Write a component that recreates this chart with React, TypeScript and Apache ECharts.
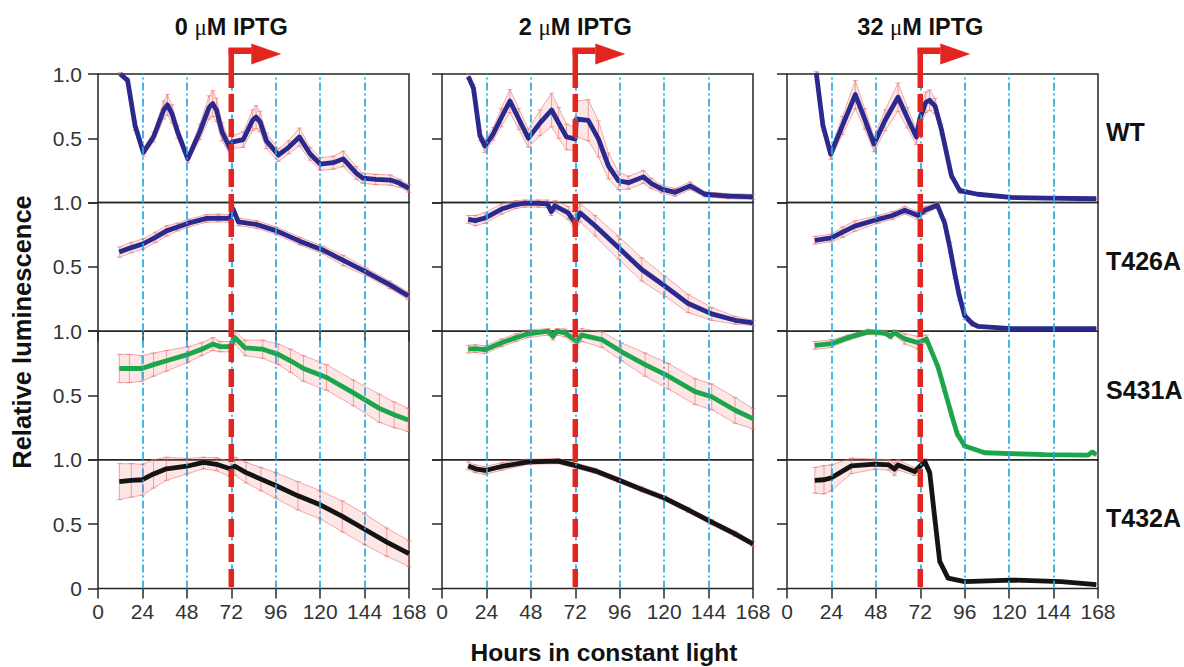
import React, { useEffect, useRef } from "react";
import * as echarts from "echarts";

// ---------- data ----------
const HOUR_TICKS = [0, 24, 48, 72, 96, 120, 144, 168];
const GUIDE_HOURS = [24, 48, 72, 96, 120, 144];
const IPTG_HOUR = 72;
const COLUMN_TITLES = ["0", "2", "32"]; // µM IPTG
const ROW_LABELS = ["WT", "T426A", "S431A", "T432A"];
const ROW_COLORS = ["#2a2a8e", "#2a2a8e", "#1ca64b", "#141414"];

// [hour, relative luminescence, error]
const wt0 = [[12, 1.0, 0.01], [16, 0.95, 0.02], [20, 0.6, 0.04], [24.5, 0.39, 0.03], [30, 0.51, 0.04], [35.5, 0.72, 0.07], [37.5, 0.76, 0.08], [40, 0.69, 0.07], [43, 0.55, 0.05], [48.5, 0.34, 0.03], [55, 0.55, 0.06], [60, 0.74, 0.09], [62, 0.77, 0.1], [64, 0.72, 0.09], [67, 0.55, 0.07], [71.7, 0.41, 0.05], [72.3, 0.47, 0.05], [78.5, 0.49, 0.06], [83.5, 0.64, 0.08], [85.4, 0.665, 0.09], [87.5, 0.63, 0.08], [91, 0.48, 0.06], [97.4, 0.37, 0.05], [103, 0.43, 0.05], [108.8, 0.51, 0.07], [114.5, 0.38, 0.05], [120, 0.3, 0.05], [127, 0.31, 0.05], [132.5, 0.34, 0.06], [139.5, 0.23, 0.05], [143, 0.19, 0.04], [150, 0.18, 0.04], [158, 0.175, 0.04], [163, 0.15, 0.03], [168, 0.11, 0.03]];
const wt2 = [[14.2, 0.98, 0.02], [17, 0.89, 0.03], [20.5, 0.52, 0.04], [23.2, 0.44, 0.05], [27.7, 0.535, 0.05], [32, 0.66, 0.07], [36.7, 0.79, 0.09], [41.5, 0.65, 0.08], [46.6, 0.5, 0.07], [53, 0.62, 0.1], [59.2, 0.72, 0.13], [63, 0.62, 0.12], [67.3, 0.51, 0.1], [71.9, 0.495, 0.09], [72.6, 0.65, 0.14], [79, 0.64, 0.16], [84.5, 0.495, 0.14], [89.9, 0.285, 0.1], [95.3, 0.17, 0.07], [100.7, 0.155, 0.05], [108.8, 0.2, 0.05], [113, 0.15, 0.04], [118.7, 0.105, 0.03], [125.9, 0.08, 0.03], [134, 0.13, 0.03], [142, 0.065, 0.02], [154.7, 0.05, 0.02], [168, 0.045, 0.02]];
const wt32 = [[15.8, 1.01, 0.01], [19.4, 0.6, 0.04], [23.6, 0.377, 0.04], [30, 0.6, 0.07], [36.9, 0.84, 0.11], [42, 0.65, 0.08], [47, 0.455, 0.06], [53, 0.64, 0.08], [60, 0.82, 0.11], [65, 0.66, 0.08], [69.9, 0.51, 0.06], [71.7, 0.65, 0.08], [75, 0.78, 0.08], [77, 0.796, 0.08], [80, 0.75, 0.06], [83.4, 0.57, 0.04], [88.8, 0.21, 0.02], [93.3, 0.093, 0.02], [103, 0.065, 0.01], [121, 0.04, 0.01], [140, 0.035, 0.01], [167, 0.03, 0.01]];

const t426_0 = [[11.5, 0.615, 0.04], [18, 0.65, 0.04], [24.5, 0.68, 0.04], [31, 0.73, 0.04], [37, 0.78, 0.04], [43, 0.81, 0.03], [48.8, 0.84, 0.03], [58.7, 0.877, 0.03], [65, 0.88, 0.03], [71.3, 0.877, 0.03], [73, 0.95, 0.03], [75.8, 0.85, 0.03], [85.7, 0.83, 0.03], [96.5, 0.78, 0.03], [109, 0.7, 0.03], [121.7, 0.63, 0.03], [132.5, 0.55, 0.04], [145, 0.46, 0.03], [157.7, 0.36, 0.03], [167.6, 0.275, 0.03]];
const t426_2 = [[14.2, 0.87, 0.03], [18, 0.86, 0.04], [23.2, 0.88, 0.04], [32.2, 0.95, 0.04], [40, 0.985, 0.03], [44.8, 0.995, 0.03], [52, 0.995, 0.03], [57, 0.99, 0.03], [59, 0.93, 0.03], [61, 0.975, 0.04], [68.2, 0.92, 0.05], [71.9, 0.84, 0.06], [74.6, 0.92, 0.07], [82.7, 0.82, 0.08], [95.3, 0.65, 0.09], [107.9, 0.48, 0.09], [120.5, 0.35, 0.08], [133, 0.215, 0.07], [145.7, 0.135, 0.05], [158.3, 0.085, 0.03], [168, 0.065, 0.02]];
const t426_32 = [[15, 0.707, 0.03], [24, 0.725, 0.03], [30, 0.77, 0.04], [36.6, 0.817, 0.04], [49.2, 0.87, 0.03], [57, 0.9, 0.03], [63.6, 0.94, 0.03], [70.8, 0.9, 0.03], [74.4, 0.94, 0.03], [81.2, 0.98, 0.02], [85.2, 0.84, 0.03], [88, 0.65, 0.04], [90.6, 0.45, 0.04], [93, 0.28, 0.04], [96, 0.12, 0.03], [100, 0.06, 0.02], [103.2, 0.037, 0.01], [121.2, 0.02, 0.01], [167, 0.02, 0.01]];

const s431_0 = [[11.5, 0.71, 0.11], [17, 0.71, 0.11], [23.6, 0.71, 0.1], [30, 0.74, 0.09], [37, 0.77, 0.08], [48.8, 0.82, 0.06], [56, 0.86, 0.05], [62, 0.9, 0.05], [66, 0.88, 0.04], [71.3, 0.88, 0.04], [74, 0.95, 0.05], [79.4, 0.87, 0.06], [89, 0.86, 0.07], [97.4, 0.82, 0.08], [104, 0.77, 0.09], [111, 0.71, 0.1], [123.5, 0.64, 0.1], [138, 0.52, 0.1], [152, 0.4, 0.11], [160, 0.35, 0.1], [167.6, 0.31, 0.09]];
const s431_2 = [[14.2, 0.86, 0.03], [18, 0.865, 0.03], [23.2, 0.856, 0.03], [32.2, 0.91, 0.03], [40, 0.95, 0.03], [46.6, 0.98, 0.03], [57.4, 1.0, 0.03], [60, 0.96, 0.03], [62, 1.0, 0.03], [66.5, 0.987, 0.03], [72.8, 0.92, 0.04], [75.5, 0.97, 0.05], [86.3, 0.935, 0.06], [97, 0.84, 0.07], [109.7, 0.74, 0.09], [122.3, 0.65, 0.1], [136.7, 0.53, 0.1], [145.7, 0.49, 0.1], [158.3, 0.385, 0.1], [168, 0.32, 0.08]];
const s431_32 = [[15, 0.89, 0.03], [24, 0.903, 0.03], [33, 0.95, 0.02], [43.8, 0.995, 0.02], [52.8, 0.987, 0.02], [56, 0.96, 0.02], [58, 0.99, 0.02], [63.6, 0.94, 0.04], [70.8, 0.91, 0.05], [75.3, 0.94, 0.03], [81.6, 0.72, 0.02], [85, 0.55, 0.02], [88.8, 0.355, 0.02], [92, 0.2, 0.02], [96, 0.107, 0.01], [106.8, 0.055, 0.01], [139, 0.04, 0.01], [162.6, 0.037, 0.01], [165, 0.06, 0.01], [167, 0.04, 0.01]];

const t432_0 = [[11.5, 0.83, 0.14], [18, 0.84, 0.13], [24, 0.845, 0.12], [30, 0.89, 0.11], [37, 0.93, 0.09], [48, 0.95, 0.06], [57, 0.98, 0.05], [64, 0.965, 0.05], [71.3, 0.93, 0.06], [74, 0.95, 0.07], [80, 0.9, 0.08], [88, 0.85, 0.09], [96, 0.8, 0.1], [108, 0.72, 0.11], [120, 0.65, 0.11], [132, 0.56, 0.12], [144, 0.46, 0.12], [156, 0.36, 0.11], [168, 0.27, 0.1]];
const t432_2 = [[14.2, 0.953, 0.03], [18, 0.93, 0.03], [23.2, 0.917, 0.03], [32.2, 0.948, 0.03], [46.6, 0.984, 0.02], [62.8, 0.99, 0.02], [72.8, 0.953, 0.02], [82.7, 0.914, 0.02], [95.3, 0.843, 0.02], [107.9, 0.77, 0.02], [120.5, 0.7, 0.02], [133, 0.61, 0.02], [145.7, 0.515, 0.02], [158.3, 0.424, 0.02], [168, 0.345, 0.02]];
const t432_32 = [[15, 0.84, 0.1], [20, 0.845, 0.11], [24, 0.86, 0.1], [34.8, 0.953, 0.06], [47.4, 0.966, 0.04], [55, 0.96, 0.04], [58, 0.927, 0.05], [60, 0.96, 0.04], [69, 0.908, 0.03], [74.4, 0.987, 0.02], [77.1, 0.9, 0.02], [79.8, 0.55, 0.01], [82.5, 0.21, 0.01], [87, 0.08, 0.01], [96, 0.052, 0.01], [121.2, 0.065, 0.01], [148.2, 0.052, 0.01], [167, 0.03, 0.01]];

const PANELS = [
  [wt0, wt2, wt32],
  [t426_0, t426_2, t426_32],
  [s431_0, s431_2, s431_32],
  [t432_0, t432_2, t432_32],
];

// ---------- layout ----------
const FONT = "'Liberation Sans', Arial, Helvetica, sans-serif";
const COL_LEFT = [98, 442, 787];
const COL_W = 311;
const ROW_TOP = [74, 202.6, 331.2, 459.8];
const ROW_H = 128.6;
const RED = "#e3251f";
const BLUE_GUIDE = "#2ea8e0";
const FRAME = "#262626";

function bandSeries(points: number[][], gi: number) {
  return {
    type: "custom",
    xAxisIndex: gi,
    yAxisIndex: gi,
    z: 2,
    silent: true,
    data: points.map((p) => [p[0], p[1] - p[2], p[1] + p[2]]),
    encode: { x: 0, y: [1, 2] },
    renderItem: (params: any, api: any) => {
      if (params.dataIndex !== 0) return { type: "group", children: [] };
      const hi = points.map((p) => api.coord([p[0], Math.min(p[1] + p[2], 1.02)]));
      const lo = points.map((p) => api.coord([p[0], Math.max(p[1] - p[2], -0.01)]));
      const children: any[] = [
        {
          type: "polygon",
          shape: { points: hi.concat(lo.slice().reverse()) },
          style: { fill: "rgba(240,130,130,0.20)", stroke: "none" },
        },
        { type: "polyline", shape: { points: hi }, style: { stroke: "rgba(232,110,110,0.55)", lineWidth: 1, fill: "none" } },
        { type: "polyline", shape: { points: lo }, style: { stroke: "rgba(232,110,110,0.55)", lineWidth: 1, fill: "none" } },
      ];
      for (let i = 0; i < hi.length; i++) {
        children.push({
          type: "line",
          shape: { x1: hi[i][0], y1: hi[i][1], x2: lo[i][0], y2: lo[i][1] },
          style: { stroke: "rgba(232,110,110,0.6)", lineWidth: 1 },
        });
        children.push({ type: "line", shape: { x1: hi[i][0] - 2.5, y1: hi[i][1], x2: hi[i][0] + 2.5, y2: hi[i][1] }, style: { stroke: "rgba(232,110,110,0.6)", lineWidth: 1 } });
        children.push({ type: "line", shape: { x1: lo[i][0] - 2.5, y1: lo[i][1], x2: lo[i][0] + 2.5, y2: lo[i][1] }, style: { stroke: "rgba(232,110,110,0.6)", lineWidth: 1 } });
      }
      return { type: "group", children };
    },
  };
}

export default function App() {
  const ref = useRef<HTMLDivElement>(null);

  useEffect(() => {
    if (!ref.current) return;
    const chart = echarts.init(ref.current, undefined, { renderer: "svg" });
    const grid: any[] = [];
    const xAxis: any[] = [];
    const yAxis: any[] = [];
    const series: any[] = [];

    for (let r = 0; r < 4; r++) {
      for (let c = 0; c < 3; c++) {
        const gi = r * 3 + c;
        const pts = PANELS[r][c];
        grid.push({
          left: COL_LEFT[c],
          top: ROW_TOP[r],
          width: COL_W,
          height: ROW_H,
          show: true,
          borderColor: FRAME,
          borderWidth: 1.5,
          backgroundColor: "transparent",
        });
        const showXTicks = r === 3 || (r === 1 && c === 0);
        xAxis.push({
          type: "value",
          gridIndex: gi,
          min: HOUR_TICKS[0],
          max: HOUR_TICKS[HOUR_TICKS.length - 1],
          interval: 24,
          axisLine: { show: false },
          splitLine: { show: false },
          axisTick: { show: showXTicks, length: 10, lineStyle: { color: FRAME, width: 1.5 } },
          axisLabel: { show: r === 3, margin: 13, fontSize: 21, color: "#333", fontFamily: FONT },
        });
        yAxis.push({
          type: "value",
          gridIndex: gi,
          min: 0,
          max: 1,
          interval: 0.5,
          axisLine: { show: false },
          splitLine: { show: false },
          axisTick: { show: true, length: 10, lineStyle: { color: FRAME, width: 1.5 } },
          axisLabel: {
            show: c === 0,
            margin: 16,
            fontSize: 21,
            color: "#333",
            fontFamily: FONT,
            formatter: (v: number) => (v === 0 ? (r === 3 ? "0" : "") : v.toFixed(1)),
          },
        });
        series.push({
          type: "line",
          xAxisIndex: gi,
          yAxisIndex: gi,
          data: [],
          z: 1,
          silent: true,
          markLine: {
            silent: true,
            symbol: ["none", "none"],
            label: { show: false },
            lineStyle: { color: BLUE_GUIDE, width: 1.7, type: [8, 3, 2, 3] },
            data: GUIDE_HOURS.map((h) => ({ xAxis: h })),
          },
        });
        series.push(bandSeries(pts, gi));
        series.push({
          type: "line",
          name: ROW_LABELS[r],
          xAxisIndex: gi,
          yAxisIndex: gi,
          data: pts.map((p) => [p[0], p[1]]),
          showSymbol: false,
          symbol: "none",
          z: 3,
          lineStyle: { color: ROW_COLORS[r], width: 4.8, join: "round" },
          emphasis: { disabled: true },
        });
      }
    }

    chart.setOption({ animation: false, grid, xAxis, yAxis, series });

    // annotations placed through the axes' own scales
    const graphic: any[] = [];
    for (let c = 0; c < 3; c++) {
      const top = chart.convertToPixel({ gridIndex: c }, [IPTG_HOUR, 1]) as number[];
      const bot = chart.convertToPixel({ gridIndex: 9 + c }, [IPTG_HOUR, 0]) as number[];
      const x = top[0];
      graphic.push({
        type: "line",
        z: 50,
        shape: { x1: x, y1: 48, x2: x, y2: top[1] + 14 },
        style: { stroke: RED, lineWidth: 5.5 },
      });
      graphic.push({
        type: "line",
        z: 50,
        shape: { x1: x, y1: top[1] + 20, x2: x, y2: bot[1] - 1 },
        style: { stroke: RED, lineWidth: 5.5, lineDash: [18, 7] },
      });
      graphic.push({ type: "rect", z: 50, shape: { x: x - 2.75, y: 47.5, width: 23, height: 6.5 }, style: { fill: RED } });
      graphic.push({
        type: "polygon",
        z: 50,
        shape: { points: [[x + 20, 43.5], [x + 50, 54], [x + 20, 64.5]] },
        style: { fill: RED },
      });
      graphic.push({
        type: "text",
        z: 50,
        x,
        y: 27,
        style: {
          text: `{b|${COLUMN_TITLES[c]} }{m|\u03bc}{b|M IPTG}`,
          align: "center",
          verticalAlign: "middle",
          textAlign: "center",
          textVerticalAlign: "middle",
          rich: {
            b: { fontSize: 23.5, fontWeight: "bold", fontFamily: FONT, fill: "#111", color: "#111" },
            m: { fontSize: 23, fontWeight: "normal", fontFamily: "'Liberation Serif', 'DejaVu Serif', serif", fill: "#111", color: "#111" },
          },
        },
      });
    }
    for (let r = 0; r < 4; r++) {
      const mid = chart.convertToPixel({ gridIndex: r * 3 + 2 }, [168, 0.5]) as number[];
      graphic.push({
        type: "text",
        x: 1106,
        y: mid[1] - 6,
        style: {
          text: ROW_LABELS[r],
          fontSize: 25,
          fontWeight: "bold",
          fontFamily: FONT,
          fill: "#111",
          align: "left",
          verticalAlign: "middle",
          textAlign: "left",
          textVerticalAlign: "middle",
        },
      });
    }
    graphic.push({
      type: "text",
      x: 22,
      y: 332,
      rotation: Math.PI / 2,
      style: {
        text: "Relative luminescence",
        fontSize: 25.5,
        fontWeight: "bold",
        fontFamily: FONT,
        fill: "#111",
        align: "center",
        verticalAlign: "middle",
        textAlign: "center",
        textVerticalAlign: "middle",
      },
    });
    graphic.push({
      type: "text",
      x: 604,
      y: 652,
      style: {
        text: "Hours in constant light",
        fontSize: 24.5,
        fontWeight: "bold",
        fontFamily: FONT,
        fill: "#111",
        align: "center",
        verticalAlign: "middle",
        textAlign: "center",
        textVerticalAlign: "middle",
      },
    });
    chart.setOption({ graphic });

    return () => chart.dispose();
  }, []);

  return (
    <div
      ref={ref}
      style={{ position: "absolute", left: 0, top: 0, width: 1184, height: 667, background: "#fff" }}
    />
  );
}
